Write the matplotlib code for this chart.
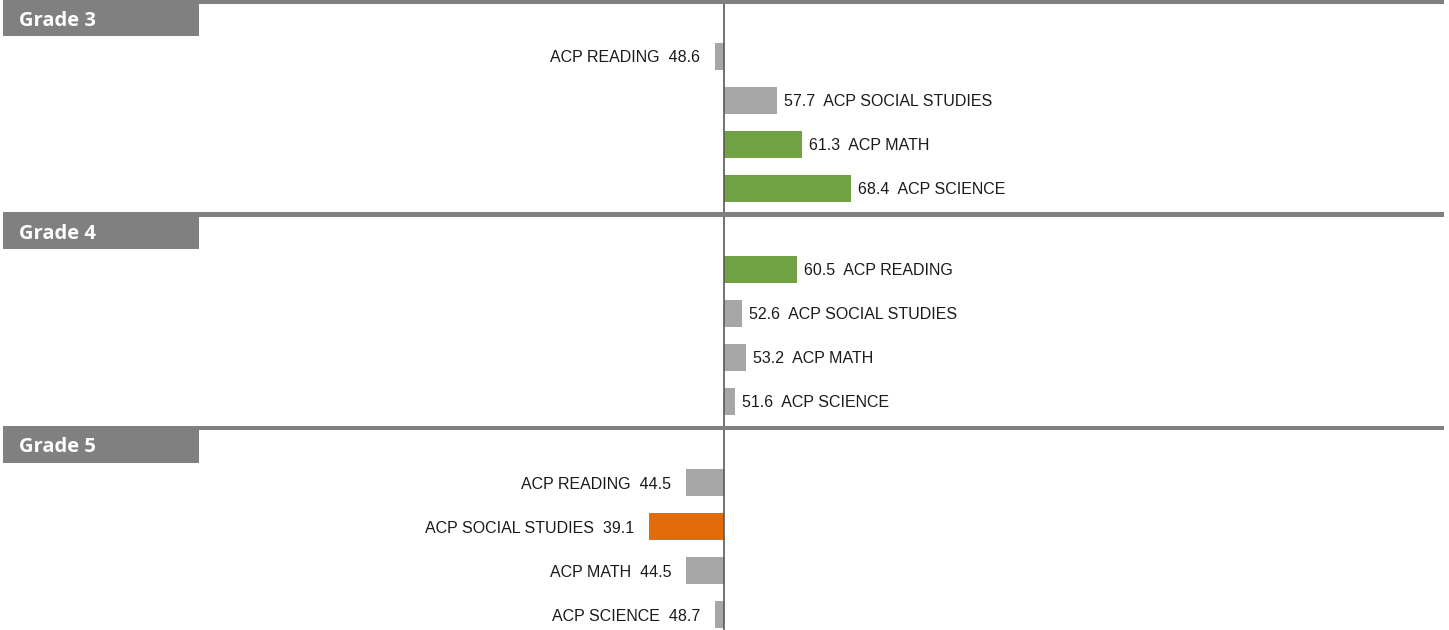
import matplotlib
matplotlib.use("Agg")
import matplotlib.pyplot as plt
from matplotlib.patches import Rectangle
from matplotlib.transforms import offset_copy

# ---- data ----
grades = ["Grade 3", "Grade 4", "Grade 5"]
subjects = ["ACP READING", "ACP SOCIAL STUDIES", "ACP MATH", "ACP SCIENCE"]
grade3 = [48.6, 57.7, 61.3, 68.4]
grade4 = [60.5, 52.6, 53.2, 51.6]
grade5 = [44.5, 39.1, 44.5, 48.7]
values = [grade3, grade4, grade5]
# colour category per bar: 'n' neutral, 'g' above, 'o' below
status3 = ["n", "n", "g", "g"]
status4 = ["g", "n", "n", "n"]
status5 = ["n", "o", "n", "n"]
statuses = [status3, status4, status5]
baseline = 50.0

colors = {"n": "#A6A6A6", "g": "#70A244", "o": "#E36C0A"}

W, H = 1449, 630
fig = plt.figure(figsize=(W / 100, H / 100), dpi=100)

# main axes: x in data units, y in pixel rows
px_per_unit = 6.9
axis_px = 724.3
ax = fig.add_axes([0, 0, 1, 1])
ax.set_xlim(baseline - axis_px / px_per_unit, baseline + (W - axis_px) / px_per_unit)
ax.set_ylim(H, 0)
ax.axis("off")

# overlay axes for decorations in pixel coordinates
deco = fig.add_axes([0, 0, 1, 1], zorder=3)
deco.set_xlim(0, W)
deco.set_ylim(H, 0)
deco.axis("off")
deco.patch.set_alpha(0)

panel_tops = [0, 213, 426.5]
row_offset = 56.3
row_step = 44
bar_h = 27

txt_font = dict(family=["Liberation Sans", "DejaVu Sans"], fontsize=11.5, color="#1a1a1a")
right_tr = offset_copy(ax.transData, fig=fig, x=7, y=0, units="dots")
left_tr = offset_copy(ax.transData, fig=fig, x=-15, y=0, units="dots")

for g, top in enumerate(panel_tops):
    # header line & box
    deco.add_patch(Rectangle((3, top - 1), 1441, 4.5, color="#808080", lw=0))
    deco.add_patch(Rectangle((3, top), 196, 36, color="#808080", lw=0))
    deco.text(19, top + 26, grades[g], color="white", fontsize=14.5,
              fontweight="bold", family=["Open Sans", "DejaVu Sans"], va="baseline")
    for i, (subj, v) in enumerate(zip(subjects, values[g])):
        yc = top + row_offset + i * row_step
        ax.barh(yc, v - baseline, left=baseline, height=bar_h,
                color=colors[statuses[g][i]], lw=0, zorder=2)
        if v >= baseline:
            ax.text(v, yc + 5.8, f"{v:.1f}  {subj}", transform=right_tr,
                    ha="left", va="baseline", **txt_font)
        else:
            ax.text(v, yc + 5.8, f"{subj}  {v:.1f}", transform=left_tr,
                    ha="right", va="baseline", **txt_font)

ax.axvline(baseline, ymin=0, ymax=1 - 4 / H, color="#595959", lw=1.2, zorder=4)

fig.savefig("out.png", dpi=100)
